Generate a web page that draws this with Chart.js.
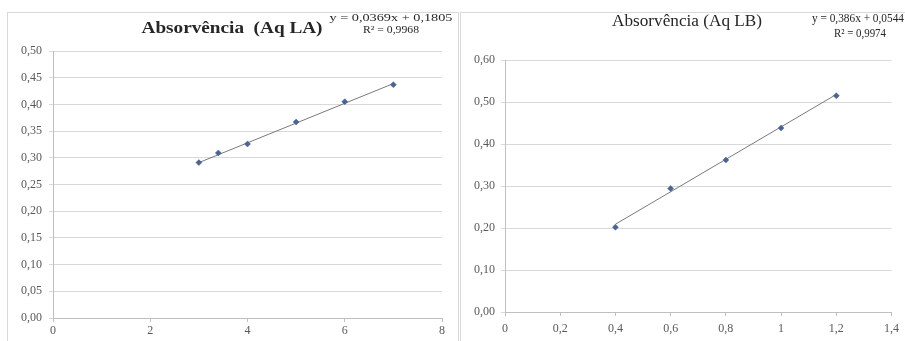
<!DOCTYPE html>
<html>
<head>
<meta charset="utf-8">
<script src="https://cdn.jsdelivr.net/npm/chart.js@4"></script>
<style>
  body { margin: 0; background: #fff; width: 905px; height: 341px; overflow: hidden; position: relative; }
  .frame { position: absolute; border: 1px solid #d9d9d9; box-sizing: border-box; }
  canvas { position: absolute; }
</style>
</head>
<body>
<div class="frame" style="left:7px; top:12px; width:452px; height:340px;"></div>
<div class="frame" style="left:460px; top:12px; width:450px; height:340px;"></div>
<canvas id="chartLA" width="451" height="329" style="left:7px; top:12px;"></canvas>
<canvas id="chartLB" width="445" height="329" style="left:460px; top:12px;"></canvas>
<script>
// Aq LA
const laX = [3, 3.4, 4, 5, 6, 7];
const laY = [0.291, 0.309, 0.326, 0.367, 0.405, 0.437];
const laTrendX = [3, 7];
const laTrendY = [0.291, 0.439];
const laXTicks = ['0', '2', '4', '6', '8'];
const laYTicks = ['0,00', '0,05', '0,10', '0,15', '0,20', '0,25', '0,30', '0,35', '0,40', '0,45', '0,50'];

// Aq LB
const lbX = [0.4, 0.6, 0.8, 1.0, 1.2];
const lbY = [0.202, 0.294, 0.362, 0.438, 0.515];
const lbTrendX = [0.4, 1.2];
const lbTrendY = [0.209, 0.518];
const lbXTicks = ['0', '0,2', '0,4', '0,6', '0,8', '1', '1,2', '1,4'];
const lbYTicks = ['0,00', '0,10', '0,20', '0,30', '0,40', '0,50', '0,60'];

const serif = "'Liberation Serif', 'DejaVu Serif', serif";

function pts(xs, ys) {
  return xs.map((x, i) => ({ x: x, y: ys[i] }));
}

// draws text squeezed/stretched to a given width, centred on cx, cy
function fitText(ctx, text, cx, cy, font, width) {
  ctx.save();
  ctx.font = font;
  const w = ctx.measureText(text).width;
  ctx.translate(cx, cy);
  ctx.scale(width / w, 1);
  ctx.textAlign = 'center';
  ctx.textBaseline = 'middle';
  ctx.fillStyle = '#262626';
  ctx.fillText(text, 0, 0);
  ctx.restore();
}

function makeChart(id, o) {
  const ctx = document.getElementById(id).getContext('2d');
  return new Chart(ctx, {
    type: 'scatter',
    data: {
      datasets: [{
        data: pts(o.xs, o.ys),
        pointStyle: 'rectRot',
        pointRadius: 3,
        backgroundColor: '#4a6391',
        borderColor: '#4a6391',
        borderWidth: 0.5,
        showLine: false
      }, {
        data: pts(o.tx, o.ty),
        showLine: true,
        pointRadius: 0,
        borderColor: '#7a7a7a',
        borderWidth: 1
      }]
    },
    options: {
      responsive: false,
      animation: false,
      layout: { padding: { top: o.top, right: o.right, left: 0, bottom: 0 } },
      plugins: { legend: { display: false }, tooltip: { enabled: false } },
      scales: {
        x: {
          type: 'linear', min: 0, max: o.xMax,
          afterFit: s => { s.height = o.xH; },
          ticks: {
            stepSize: o.xStep, padding: o.xPad, color: '#595959',
            font: { family: serif, size: 12 },
            callback: v => o.xLabels[Math.round(v / o.xStep)]
          },
          grid: { drawOnChartArea: false, tickLength: 4, color: '#bfbfbf' },
          border: { color: '#bfbfbf' }
        },
        y: {
          min: 0, max: o.yMax,
          afterFit: s => { s.width = o.yW; },
          ticks: {
            stepSize: o.yStep, padding: o.yPad, color: '#595959',
            font: { family: serif, size: 12 },
            callback: v => o.yLabels[Math.round(v / o.yStep)]
          },
          grid: { color: '#d9d9d9', tickLength: 4 },
          border: { color: '#bfbfbf' }
        }
      }
    },
    plugins: [{
      id: 'texts',
      afterDraw(chart) {
        o.texts.forEach(t => fitText(chart.ctx, t[0], t[1], t[2], t[3], t[4]));
      }
    }]
  });
}

makeChart('chartLA', {
  xs: laX, ys: laY, tx: laTrendX, ty: laTrendY,
  xMax: 8, xStep: 2, xLabels: laXTicks,
  yMax: 0.5, yStep: 0.05, yLabels: laYTicks,
  top: 39, right: 16, xH: 23, yW: 46, xPad: 2, yPad: 7,
  texts: [
    ['Absorvência  (Aq LA)', 225, 17, 'bold 16px ' + serif, 181],
    ['y = 0,0369x + 0,1805', 384, 6, '11px ' + serif, 123],
    ['R² = 0,9968', 384, 18, '11px ' + serif, 56]
  ]
});

makeChart('chartLB', {
  xs: lbX, ys: lbY, tx: lbTrendX, ty: lbTrendY,
  xMax: 1.4, xStep: 0.2, xLabels: lbXTicks,
  yMax: 0.6, yStep: 0.1, yLabels: lbYTicks,
  top: 48, right: 13, xH: 29, yW: 45, xPad: 6, yPad: 6,
  texts: [
    ['Absorvência (Aq LB)', 227, 10, '16px ' + serif, 150],
    ['y = 0,386x + 0,0544', 398, 7, '13px ' + serif, 92],
    ['R² = 0,9974', 400, 22, '13px ' + serif, 52]
  ]
});
</script>
</body>
</html>
